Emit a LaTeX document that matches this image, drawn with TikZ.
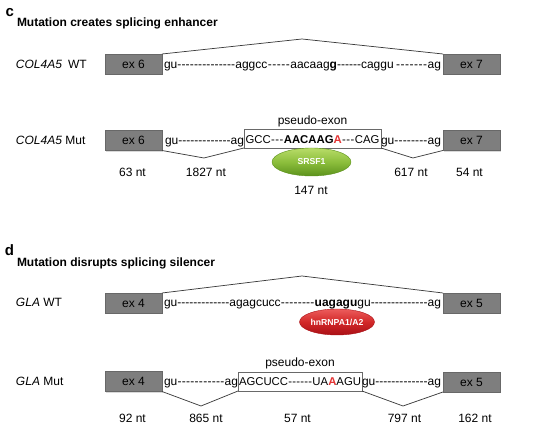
\documentclass[tikz,border=0pt]{standalone}
\usepackage{fontspec}
\setmainfont{Liberation Sans}
\usetikzlibrary{shapes.geometric,shadows}
\newdimen\pxu \pxu=0.75pt
\newcommand\dsh[1]{\hbox to #1\pxu{\xleaders\hbox{-}\hfill}}
\newcommand\dfill{\xleaders\hbox{-}\hfill}
\definecolor{exfill}{RGB}{126,126,126}
\definecolor{exdraw}{RGB}{104,104,104}
\definecolor{linec}{RGB}{60,60,60}
\definecolor{pexc}{RGB}{105,105,105}
\definecolor{mutred}{RGB}{228,52,52}
\definecolor{gtop}{RGB}{184,220,104}
\definecolor{gmid}{RGB}{140,190,60}
\definecolor{gbot}{RGB}{92,146,28}
\definecolor{rtop}{RGB}{236,92,92}
\definecolor{rmid}{RGB}{210,40,40}
\definecolor{rbot}{RGB}{170,16,22}
\begin{document}
\begin{tikzpicture}[x=0.75pt,y=-0.75pt,
  every node/.style={inner sep=0pt,outer sep=0pt,font=\fontsize{9}{10.8}\selectfont},
  exon/.style={draw=exdraw,fill=exfill,line width=0.4pt,minimum width=57\pxu,minimum height=20\pxu,
    drop shadow={shadow xshift=0.7pt,shadow yshift=-0.8pt,opacity=0.3}},
  pex/.style={draw=pexc,fill=white,line width=0.45pt,minimum height=19\pxu},
  seqw/.style={anchor=base west},
  seqe/.style={anchor=base east},
  link/.style={draw=linec,line width=0.55pt},
  lab/.style={anchor=base west},
  ttl/.style={anchor=base west,font=\fontsize{9}{10.8}\selectfont\bfseries},
  panel/.style={anchor=base west,font=\fontsize{11.25}{13}\selectfont\bfseries},
  boxtxt/.style={anchor=base,font=\fontsize{8.5}{10}\selectfont},
  protein/.style={ellipse,minimum width=79\pxu,minimum height=28\pxu,text=white,
    font=\fontsize{6.5}{8}\selectfont\bfseries,line width=0.3pt}
]
\useasboundingbox (0,0) rectangle (536,434);

% ---------------- panel c ----------------
\node[panel] (pc) at (5.5,16.3) {c};
\node[ttl] (tc) at (17,27) {Mutation creates splicing enhancer};

% WT row
\node[lab] (lc1) at (16,68.5) {\itshape COL4A5};
\node[lab] (lc1b) at (68,68.5) {WT};
\node[exon] (ex6) at (133.5,64) {ex 6};
\node[exon] (ex7) at (471.5,64) {ex 7};
\node[seqw] (sc1) at (164,68.5) {\hbox to 277\pxu{gu\dsh{58}aggcc\dsh{23}aacaag\textbf{g}\dsh{24}caggu\hspace{2\pxu}\dfill ag}};
\coordinate (pk1) at (302,39);
\draw[link] (ex6.north east) -- (pk1) -- (ex7.north west);

% Mut row
\node[lab] (lc2) at (16,144.5) {\itshape COL4A5\upshape{} Mut};
\node[exon] (ex6m) at (133.5,140.5) {ex 6};
\node[exon] (ex7m) at (471.5,140.5) {ex 7};
\node[pex,minimum width=137\pxu] (pe1) at (312.5,138.5) {};
\node[seqe] (sc2l) at (pe1.west |- 0,144.5) {\hbox to 79\pxu{gu\dfill ag}};
\node[seqw] (sc2r) at (pe1.east |- 0,144.5) {\hbox to 60\pxu{gu\dfill ag}};
\node[boxtxt] (sc2m) at (312.5,144) {\hbox to 134\pxu{GCC\dfill\textbf{AACAAG\textcolor{mutred}{A}}\dfill CAG}};
\node (psc) at (312.5,121.5) {pseudo-exon};
\coordinate (v1) at (204,158);
\coordinate (v2) at (413,158);
\draw[link] (ex6m.south east) -- (v1) -- (pe1.south west);
\draw[link] (pe1.south east) -- (v2) -- (ex7m.south west);
\node[protein,draw=gbot,top color=gtop,bottom color=gbot,middle color=gmid] (srsf) at (311.5,162) {SRSF1};

\node (n1) at (132.5,172) {63 nt};
\node (n2) at (206,172) {1827 nt};
\node (n3) at (311,190.5) {147 nt};
\node (n4) at (411,172) {617 nt};
\node (n5) at (469.5,172) {54 nt};

% ---------------- panel d ----------------
\node[panel] (pd) at (5,256) {d};
\node[ttl] (td) at (17,266.5) {Mutation disrupts splicing silencer};

% WT row
\node[lab] (ld1) at (16,307) {\itshape GLA\upshape{} WT};
\node[exon] (ex4) at (133.5,303) {ex 4};
\node[exon] (ex5) at (471.5,303) {ex 5};
\node[seqw] (sd1) at (164,307) {\hbox to 277\pxu{gu\dsh{52}agagcucc\dsh{34}\textbf{uagagu}gu\dfill ag}};
\coordinate (pk2) at (302,276);
\draw[link] (ex4.north east) -- (pk2) -- (ex5.north west);
\node[protein,draw=rbot,top color=rtop,bottom color=rbot,middle color=rmid,minimum width=75\pxu,minimum height=26\pxu] (hnrnp) at (337,322) {hnRNPA1/A2};

% Mut row
\node[lab] (ld2) at (16,386) {\itshape GLA\upshape{} Mut};
\node[exon] (ex4m) at (133.5,381.5) {ex 4};
\node[exon] (ex5m) at (471.5,382) {ex 5};
\node[pex,minimum width=124\pxu] (pe2) at (300,381.5) {};
\node[seqe] (sd2l) at (pe2.west |- 0,386) {\hbox to 74\pxu{gu\dfill ag}};
\node[seqw] (sd2r) at (pe2.east |- 0,386) {\hbox to 79\pxu{gu\dfill ag}};
\node[boxtxt] (sd2m) at (300,385.5) {\hbox to 122\pxu{AGCUCC\dfill UA\textbf{\textcolor{mutred}{A}}AGU}};
\node (psd) at (300,363) {pseudo-exon};
\coordinate (v3) at (201,406);
\coordinate (v4) at (403,406);
\draw[link] (ex4m.south east) -- (v3) -- (pe2.south west);
\draw[link] (pe2.south east) -- (v4) -- (ex5m.south west);

\node (m1) at (132.5,418.5) {92 nt};
\node (m2) at (206,418.5) {865 nt};
\node (m3) at (297.5,418.5) {57 nt};
\node (m4) at (404.5,418.5) {797 nt};
\node (m5) at (475,418.5) {162 nt};
\end{tikzpicture}
\end{document}
